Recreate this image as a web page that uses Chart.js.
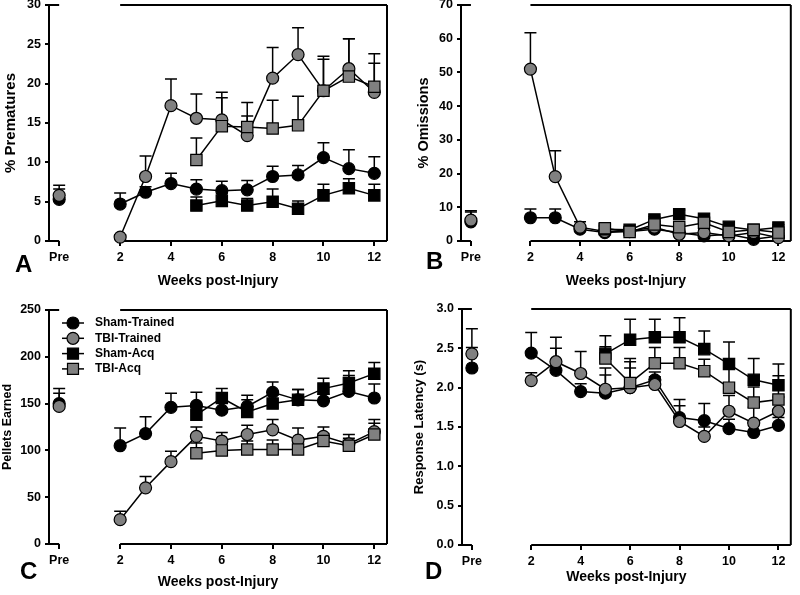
<!DOCTYPE html>
<html>
<head>
<meta charset="utf-8">
<script src="https://cdn.jsdelivr.net/npm/chart.js@4.4.0/dist/chart.umd.min.js"></script>
<style>
  body { margin: 0; width: 800px; height: 595px; overflow: hidden; background: #fff; position: relative; font-family: "Liberation Sans", Arial, sans-serif; }
  canvas { position: absolute; }
  .letter { position: absolute; font-weight: bold; font-size: 24px; line-height: 1; }
</style>
</head>
<body>
<canvas id="chartA" width="400" height="317" style="left:0;top:-20px"></canvas>
<canvas id="chartB" width="400" height="317" style="left:400px;top:-20px"></canvas>
<canvas id="chartC" width="400" height="315" style="left:0;top:280px"></canvas>
<canvas id="chartD" width="400" height="315" style="left:400px;top:280px"></canvas>
<div class="letter" style="left:15px;top:252px">A</div>
<div class="letter" style="left:426px;top:249px">B</div>
<div class="letter" style="left:20px;top:559px">C</div>
<div class="letter" style="left:425px;top:559px">D</div>
<script>
// x positions
const PRE_X = -0.4;
const weeksTrained = ["Pre", 2, 3, 4, 5, 6, 7, 8, 9, 10, 11, 12];
const weeksAcq = [5, 6, 7, 8, 9, 10, 11, 12];
const xTickValues = [PRE_X, 2, 4, 6, 8, 10, 12];
const xTickLabels = ["Pre", "2", "4", "6", "8", "10", "12"];
const seriesNames = ["Sham-Trained", "TBI-Trained", "Sham-Acq", "TBI-Acq"];

// A: % Prematures
const premShamTrained = [5.3, 4.7, 6.2, 7.3, 6.6, 6.4, 6.5, 8.2, 8.4, 10.6, 9.2, 8.6];
const premShamTrainedSem = [1.3, 1.4, 0.7, 1.3, 1.2, 1.2, 1.2, 1.3, 1.2, 1.9, 2.4, 2.1];
const premTbiTrained = [5.8, 0.5, 8.2, 17.2, 15.6, 15.4, 13.4, 20.7, 23.7, 19.1, 21.9, 18.9];
const premTbiTrainedSem = [1.3, 0.3, 2.6, 3.4, 3.1, 3.5, 2.5, 3.9, 3.4, 4.4, 3.8, 3.7];
const premShamAcq = [4.5, 5.1, 4.5, 5.0, 4.1, 5.8, 6.7, 5.8];
const premShamAcqSem = [1.1, 0.9, 0.9, 1.6, 1.0, 1.4, 1.2, 1.4];
const premTbiAcq = [10.3, 14.6, 14.5, 14.3, 14.7, 19.1, 20.9, 19.6];
const premTbiAcqSem = [2.8, 3.6, 3.1, 3.6, 3.7, 4.0, 4.8, 4.2];

// B: % Omissions
const omisShamTrained = [5.7, 6.9, 6.9, 3.5, 2.5, 2.8, 3.5, 2.5, 1.5, 2.0, 0.5, 1.5];
const omisShamTrainedSem = [2.9, 2.6, 2.6, 1.0, 0.8, 0.8, 1.0, 1.0, 0.8, 0.8, 0.8, 0.8];
const omisTbiTrained = [6.2, 51.0, 19.1, 4.1, 2.8, 3.0, 4.1, 2.0, 2.5, 1.5, 2.5, 1.0];
const omisTbiTrainedSem = [2.8, 10.8, 7.7, 1.6, 0.8, 0.8, 1.0, 1.0, 0.8, 0.8, 0.8, 0.8];
const omisShamAcq = [3.5, 3.3, 6.4, 7.9, 6.6, 4.2, 3.3, 4.0];
const omisShamAcqSem = [0.8, 0.8, 0.8, 1.3, 0.8, 0.8, 0.8, 0.8];
const omisTbiAcq = [3.8, 2.7, 4.9, 4.1, 5.4, 2.7, 3.3, 2.5];
const omisTbiAcqSem = [0.8, 0.8, 0.8, 0.8, 0.8, 0.8, 0.8, 0.8];

// C: Pellets Earned
const pelShamTrained = [150, 105, 118, 146, 148, 143, 147, 162, 154, 153, 163, 156];
const pelShamTrainedSem = [11, 19, 18, 15, 14, 9, 7, 11, 11, 7, 17, 15];
const pelTbiTrained = [147, 26, 60, 88, 115, 110, 117, 122, 111, 115, 107, 120];
const pelTbiTrainedSem = [19, 9, 12, 11, 10, 9, 10, 11, 13, 10, 10, 13];
const pelShamAcq = [138, 156, 141, 150, 154, 166, 172, 182];
const pelShamAcqSem = [8, 10, 18, 9, 11, 11, 13, 12];
const pelTbiAcq = [97, 100, 101, 101, 101, 110, 105, 117];
const pelTbiAcqSem = [11, 8, 9, 10, 9, 8, 8, 12];

// D: Response Latency (s)
const latShamTrained = [2.25, 2.44, 2.22, 1.95, 1.93, 2.00, 2.10, 1.62, 1.58, 1.48, 1.43, 1.52];
const latShamTrainedSem = [0.26, 0.26, 0.28, 0.10, 0.23, 0.25, 0.10, 0.23, 0.22, 0.12, 0.12, 0.10];
const latTbiTrained = [2.43, 2.09, 2.33, 2.18, 1.98, 2.00, 2.04, 1.57, 1.38, 1.70, 1.55, 1.70];
const latTbiTrainedSem = [0.32, 0.10, 0.31, 0.28, 0.27, 0.33, 0.10, 0.20, 0.12, 0.20, 0.20, 0.18];
const latShamAcq = [2.43, 2.61, 2.64, 2.64, 2.49, 2.30, 2.10, 2.03];
const latShamAcqSem = [0.23, 0.26, 0.23, 0.25, 0.23, 0.28, 0.27, 0.27];
const latTbiAcq = [2.37, 2.06, 2.31, 2.31, 2.21, 2.00, 1.81, 1.85];
const latTbiAcqSem = [0.15, 0.31, 0.20, 0.20, 0.15, 0.25, 0.20, 0.30];

const GRAY = "#808080";
const FONT = '"Liberation Sans", Arial, sans-serif';
Chart.defaults.font.family = FONT;
Chart.defaults.font.weight = "bold";
Chart.defaults.color = "#000";

const styles = [
  { fill: "#000", shape: "circle", radius: 6, order: 4 },
  { fill: GRAY, shape: "circle", radius: 6, order: 3 },
  { fill: "#000", shape: "rect", radius: 8, order: 2 },
  { fill: GRAY, shape: "rect", radius: 8, order: 1 },
];

// build points, with a gap between Pre and week 2
function makeSeries(i, weeks, values, sem) {
  const data = [];
  const errs = [];
  weeks.forEach((w, j) => {
    data.push({ x: w === "Pre" ? PRE_X : w, y: values[j] });
    errs.push(sem[j]);
    if (w === "Pre") {
      data.push({ x: 1, y: null });
      errs.push(null);
    }
  });
  const s = styles[i];
  return {
    label: seriesNames[i],
    data,
    sem: errs,
    order: s.order,
    borderColor: "#000",
    borderWidth: 1.5,
    pointStyle: s.shape,
    pointRadius: s.radius,
    pointBackgroundColor: s.fill,
    pointBorderColor: "#000",
    pointBorderWidth: 1.2,
    fill: false,
    tension: 0,
    spanGaps: false,
    clip: false,
  };
}

// upper error bars
const errorBarPlugin = {
  id: "errorBars",
  beforeDatasetsDraw(chart) {
    const { ctx } = chart;
    const yScale = chart.scales.y;
    ctx.save();
    ctx.strokeStyle = "#000";
    ctx.lineWidth = 1.5;
    chart.data.datasets.forEach((ds, i) => {
      const meta = chart.getDatasetMeta(i);
      meta.data.forEach((pt, j) => {
        const d = ds.data[j];
        const err = ds.sem[j];
        if (d.y == null || err == null) return;
        const top = yScale.getPixelForValue(d.y + err);
        ctx.beginPath();
        ctx.moveTo(pt.x, pt.y);
        ctx.lineTo(pt.x, top);
        ctx.moveTo(pt.x - 6, top);
        ctx.lineTo(pt.x + 6, top);
        ctx.stroke();
      });
    });
    ctx.restore();
  },
};

// broken frame: short Pre part and the weeks part
const framePlugin = {
  id: "frame",
  beforeDatasetsDraw(chart) {
    const { ctx, chartArea: a, scales } = chart;
    const xPre = scales.x.getPixelForValue(PRE_X);
    const x2 = scales.x.getPixelForValue(2);
    ctx.save();
    ctx.strokeStyle = "#000";
    ctx.lineWidth = 2;
    ctx.beginPath();
    [a.top, a.bottom].forEach((y) => {
      ctx.moveTo(a.left, y);
      ctx.lineTo(xPre, y);
      ctx.moveTo(x2, y);
      ctx.lineTo(a.right, y);
    });
    ctx.moveTo(a.right, a.top);
    ctx.lineTo(a.right, a.bottom);
    ctx.stroke();
    ctx.restore();
  },
};

// legend with line through marker (panel C)
const lineLegendPlugin = {
  id: "lineLegend",
  afterDatasetsDraw(chart) {
    const { ctx, chartArea: a } = chart;
    ctx.save();
    ctx.font = "bold 12px " + FONT;
    ctx.textBaseline = "middle";
    ctx.fillStyle = "#000";
    chart.data.datasets.forEach((ds, i) => {
      const y = a.top + 13 + i * 15.3;
      const x0 = a.left + 13;
      const xm = a.left + 24;
      ctx.strokeStyle = "#000";
      ctx.lineWidth = 1.5;
      ctx.beginPath();
      ctx.moveTo(x0, y);
      ctx.lineTo(x0 + 22, y);
      ctx.stroke();
      ctx.fillStyle = ds.pointBackgroundColor;
      ctx.lineWidth = 1.2;
      ctx.beginPath();
      if (ds.pointStyle === "circle") {
        ctx.arc(xm, y, 6, 0, Math.PI * 2);
      } else {
        ctx.rect(xm - 5.5, y - 5.5, 11, 11);
      }
      ctx.fill();
      ctx.stroke();
      ctx.fillStyle = "#000";
      ctx.fillText(ds.label, a.left + 46, y);
    });
    ctx.restore();
  },
};

function makeChart(id, cfg) {
  const plugins = [framePlugin, errorBarPlugin];
  if (cfg.legend) plugins.push(lineLegendPlugin);
  return new Chart(document.getElementById(id), {
    type: "line",
    data: { datasets: cfg.datasets },
    options: {
      animation: false,
      responsive: false,
      devicePixelRatio: 1,
      layout: { padding: cfg.padding },
      plugins: { legend: { display: false }, tooltip: { enabled: false } },
      scales: {
        x: {
          type: "linear",
          min: -0.8,
          max: 12.5,
          afterBuildTicks: (scale) => {
            scale.ticks = xTickValues.map((v) => ({ value: v }));
          },
          afterFit: (scale) => { scale.height = cfg.xHeight; },
          ticks: {
            callback: (v, i) => xTickLabels[i],
            autoSkip: false,
            maxRotation: 0,
            padding: 4,
            font: { size: 12.5, weight: "bold" },
          },
          grid: { drawOnChartArea: false, drawTicks: true, tickLength: 5, color: "#000", lineWidth: 2 },
          border: { display: false },
          title: {
            display: true,
            text: "Weeks post-Injury",
            font: { size: 14, weight: "bold" },
            padding: { top: 0, bottom: cfg.xTitlePad },
          },
        },
        y: {
          min: cfg.yMin,
          max: cfg.yMax,
          afterFit: (scale) => { scale.width = cfg.yWidth; },
          ticks: {
            stepSize: cfg.yStep,
            padding: 4,
            font: { size: 12.5, weight: "bold" },
            callback: cfg.yFormat || ((v) => v),
          },
          grid: { drawOnChartArea: false, drawTicks: true, tickLength: 4, color: "#000", lineWidth: 2 },
          border: { display: true, color: "#000", width: 2 },
          title: {
            display: true,
            text: cfg.yTitle,
            font: { size: cfg.yTitleSize, weight: "bold" },
            padding: { top: cfg.yTitlePad, bottom: 0 },
          },
        },
      },
    },
    plugins,
  });
}

makeChart("chartA", {
  datasets: [
    makeSeries(0, weeksTrained, premShamTrained, premShamTrainedSem),
    makeSeries(1, weeksTrained, premTbiTrained, premTbiTrainedSem),
    makeSeries(2, weeksAcq, premShamAcq, premShamAcqSem),
    makeSeries(3, weeksAcq, premTbiAcq, premTbiAcqSem),
  ],
  padding: { top: 25, right: 13, left: 0, bottom: 0 },
  yWidth: 49, xHeight: 56, xTitlePad: 7.6, yTitlePad: 2,
  yMin: 0, yMax: 30, yStep: 5, yTitle: "% Prematures", yTitleSize: 15,
});

makeChart("chartB", {
  datasets: [
    makeSeries(0, weeksTrained, omisShamTrained, omisShamTrainedSem),
    makeSeries(1, weeksTrained, omisTbiTrained, omisTbiTrainedSem),
    makeSeries(2, weeksAcq, omisShamAcq, omisShamAcqSem),
    makeSeries(3, weeksAcq, omisTbiAcq, omisTbiAcqSem),
  ],
  padding: { top: 25, right: 2, left: 0, bottom: 0 },
  yWidth: 61, xHeight: 56, xTitlePad: 7.6, yTitlePad: 15,
  yMin: 0, yMax: 70, yStep: 10, yTitle: "% Omissions", yTitleSize: 14.5,
});

makeChart("chartC", {
  datasets: [
    makeSeries(0, weeksTrained, pelShamTrained, pelShamTrainedSem),
    makeSeries(1, weeksTrained, pelTbiTrained, pelTbiTrainedSem),
    makeSeries(2, weeksAcq, pelShamAcq, pelShamAcqSem),
    makeSeries(3, weeksAcq, pelTbiAcq, pelTbiAcqSem),
  ],
  legend: true,
  padding: { top: 30, right: 13, left: 0, bottom: 0 },
  yWidth: 49, xHeight: 51, xTitlePad: 4.6, yTitlePad: 0,
  yMin: 0, yMax: 250, yStep: 50, yTitle: "Pellets Earned", yTitleSize: 12.5,
});

makeChart("chartD", {
  datasets: [
    makeSeries(0, weeksTrained, latShamTrained, latShamTrainedSem),
    makeSeries(1, weeksTrained, latTbiTrained, latTbiTrainedSem),
    makeSeries(2, weeksAcq, latShamAcq, latShamAcqSem),
    makeSeries(3, weeksAcq, latTbiAcq, latTbiAcqSem),
  ],
  padding: { top: 29, right: 2, left: 0, bottom: 0 },
  yWidth: 62, xHeight: 50, xTitlePad: 9.6, yTitlePad: 12,
  yMin: 0, yMax: 3, yStep: 0.5, yTitle: "Response Latency (s)", yTitleSize: 13,
  yFormat: (v) => v.toFixed(1),
});
</script>
</body>
</html>
